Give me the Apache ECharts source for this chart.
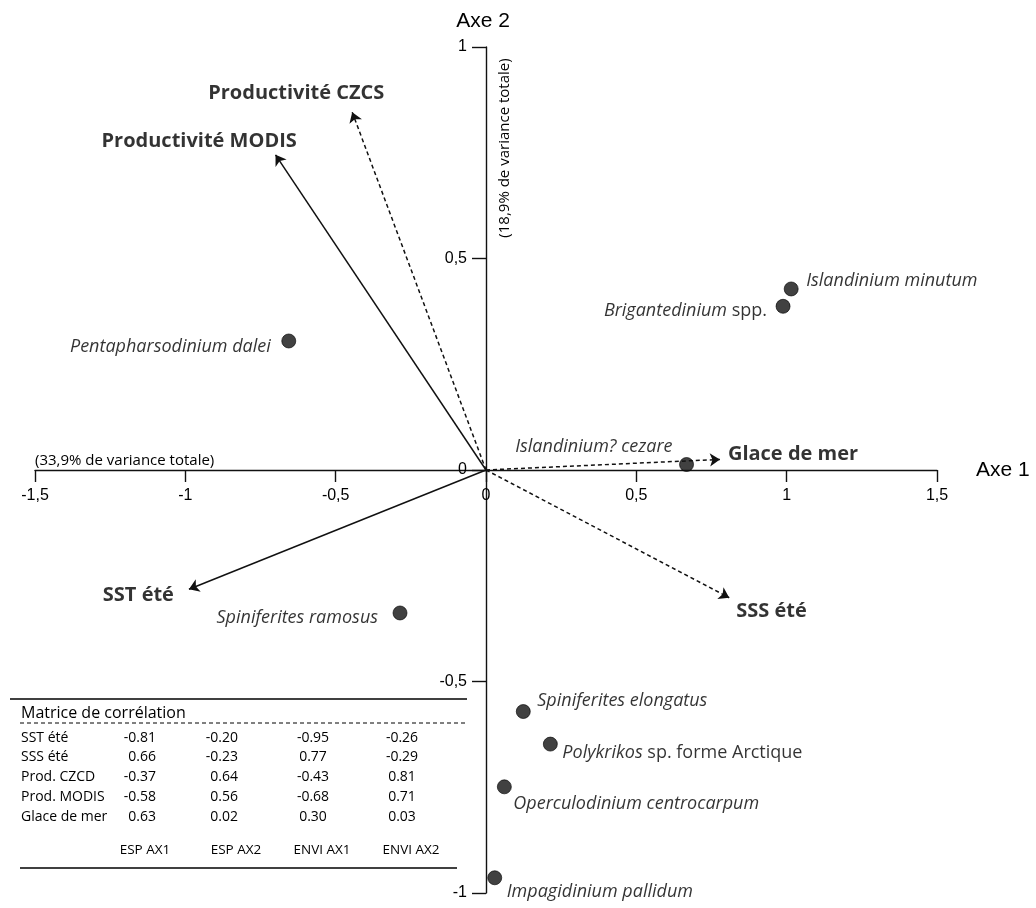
<!DOCTYPE html>
<html><head><meta charset="utf-8">
<script src="https://cdn.jsdelivr.net/npm/echarts@6/dist/echarts.min.js"></script>
<style>html,body{margin:0;padding:0;background:#fff}#c{width:1036px;height:908px}</style>
</head><body><div id="c"></div>
<script>
// ---------- data ----------
const xTicks = [-1.5, -1, -0.5, 0, 0.5, 1, 1.5];
const xTickLabels = ['-1,5', '-1', '-0,5', '0', '0,5', '1', '1,5'];
const yTicks = [-1, -0.5, 0, 0.5, 1];
const yTickLabels = ['-1', '-0,5', '0', '0,5', '1'];

const speciesItalic = ['Islandinium minutum', 'Brigantedinium', 'Islandinium? cezare', 'Pentapharsodinium dalei',
  'Spiniferites ramosus', 'Spiniferites elongatus', 'Polykrikos', 'Operculodinium centrocarpum', 'Impagidinium pallidum'];
const speciesRoman = ['', 'spp.', '', '', '', '', 'sp. forme Arctique', '', ''];
const speciesX = [1.015, 0.988, 0.667, -0.656, -0.286, 0.124, 0.214, 0.061, 0.029];
const speciesY = [0.428, 0.387, 0.013, 0.305, -0.338, -0.571, -0.648, -0.749, -0.964];

const vectorNames = ['SST été', 'SSS été', 'Productivité CZCS', 'Productivité MODIS', 'Glace de mer'];
const vectorX = [-0.988, 0.809, -0.445, -0.700, 0.778];
const vectorY = [-0.282, -0.302, 0.846, 0.745, 0.025];

const tableTitle = 'Matrice de corrélation';
const tableRows = ['SST été', 'SSS été', 'Prod. CZCD', 'Prod. MODIS', 'Glace de mer'];
const tableCols = ['ESP AX1', 'ESP AX2', 'ENVI AX1', 'ENVI AX2'];
const espAx1 = [-0.81, 0.66, -0.37, -0.58, 0.63];
const espAx2 = [-0.20, -0.23, 0.64, 0.56, 0.02];
const enviAx1 = [-0.95, 0.77, -0.43, -0.68, 0.30];
const enviAx2 = [-0.26, -0.29, 0.81, 0.71, 0.03];

const xAxisTitle = 'Axe 1', yAxisTitle = 'Axe 2';
const xVarLabel = '(33,9% de variance totale)';
const yVarLabel = '(18,9% de variance totale)';

// ---------- layout / style ----------
const INK = '#000';
const SANS = '"Open Sans", "Noto Sans", sans-serif';
const AXF = '"Liberation Sans", Arial, sans-serif';
const GRID = { left: 35, right: 99, top: 47, bottom: 15 };
const vecStyle = [
  { dashed: false, align: 'right', off: [-15, 6] },
  { dashed: true,  align: 'left',  off: [7, 14] },
  { dashed: true,  align: 'left', off: [-144, -19] },
  { dashed: false, align: 'left', off: [-174, -14] },
  { dashed: true,  align: 'left',  off: [8, -5] }
];
const spLabel = [
  { align: 'left', off: [15, -8] },
  { align: 'right', off: [-16, 5] },
  { align: 'right', off: [-14, -18] },
  { align: 'right', off: [-18, 6] },
  { align: 'right', off: [-22, 5] },
  { align: 'left', off: [14, -11] },
  { align: 'left', off: [12, 9] },
  { align: 'left', off: [9, 17] },
  { align: 'left', off: [12, 14] }
];
const tbl = { x0: 10, x1: 467, lx: 21, topLine: 699, titleY: 713, dashY: 723,
  rowY: [738, 757, 777, 797, 817], headY: 850, botY: 868,
  colX: [156, 238, 313, 402], colAlign: ['right', 'right', 'center', 'center'],
  headX: [145, 236, 322, 411] };

function lookup(ticks, labels, v) {
  for (let i = 0; i < ticks.length; i++) if (Math.abs(ticks[i] - v) < 1e-9) return labels[i];
  return '';
}

const chart = echarts.init(document.getElementById('c'));

const vecLines = vectorX.map((x, i) => ({
  coords: [[0, 0], [x, vectorY[i]]],
  lineStyle: { type: vecStyle[i].dashed ? [4, 3] : 'solid' }
}));
const vecTips = vectorX.map((x, i) => ({
  value: [x, vectorY[i]],
  label: { align: vecStyle[i].align, offset: vecStyle[i].off }
}));
const spData = speciesX.map((x, i) => ({
  value: [x, speciesY[i]],
  label: { align: spLabel[i].align, offset: spLabel[i].off }
}));

const graphics = [];
graphics.push({ type: 'text', x: 35, y: 461, style: { text: xVarLabel, font: '15px ' + SANS, fill: INK, align: 'left', verticalAlign: 'middle' } });
graphics.push({ type: 'text', x: 505, y: 148, rotation: Math.PI / 2, style: { text: yVarLabel, font: '15px ' + SANS, fill: INK, align: 'center', verticalAlign: 'middle' } });
// table
graphics.push({ type: 'line', shape: { x1: tbl.x0, y1: tbl.topLine, x2: tbl.x1, y2: tbl.topLine }, style: { stroke: INK, lineWidth: 1.4 } });
graphics.push({ type: 'text', x: tbl.lx, y: tbl.titleY, style: { text: tableTitle, font: '16px ' + SANS, fill: INK, align: 'left', verticalAlign: 'middle' } });
graphics.push({ type: 'line', shape: { x1: tbl.lx - 1, y1: tbl.dashY, x2: tbl.x1, y2: tbl.dashY }, style: { stroke: INK, lineWidth: 1, lineDash: [4, 3] } });
const cols = [espAx1, espAx2, enviAx1, enviAx2];
tableRows.forEach((r, i) => {
  graphics.push({ type: 'text', x: tbl.lx, y: tbl.rowY[i], style: { text: r, font: '14px ' + SANS, fill: INK, align: 'left', verticalAlign: 'middle' } });
  cols.forEach((c, j) => {
    graphics.push({ type: 'text', x: tbl.colX[j], y: tbl.rowY[i], style: { text: c[i].toFixed(2), font: '14px ' + SANS, fill: INK, align: tbl.colAlign[j], verticalAlign: 'middle' } });
  });
});
tableCols.forEach((h, j) => {
  graphics.push({ type: 'text', x: tbl.headX[j], y: tbl.headY, style: { text: h, font: '13.5px ' + SANS, fill: INK, align: 'center', verticalAlign: 'middle' } });
});
graphics.push({ type: 'line', shape: { x1: tbl.lx - 1, y1: tbl.botY, x2: 457, y2: tbl.botY }, style: { stroke: INK, lineWidth: 1.4 } });

const option = {
  animation: false,
  backgroundColor: '#fff',
  grid: Object.assign({ containLabel: false, outerBoundsMode: 'none' }, GRID),
  xAxis: {
    type: 'value', min: -1.5, max: 1.5, interval: 0.5, position: 'bottom', offset: 0,
    splitLine: { show: false },
    axisLine: { onZero: false, lineStyle: { color: '#111', width: 1.4 } },
    axisTick: { length: 12, lineStyle: { color: '#111', width: 1.4 } },
    axisLabel: { margin: 18, fontSize: 16, fontFamily: AXF, color: INK, formatter: v => lookup(xTicks, xTickLabels, v) },
    name: xAxisTitle, nameLocation: 'end', nameGap: 39,
    nameTextStyle: { fontSize: 21, fontFamily: AXF, color: INK }
  },
  yAxis: {
    type: 'value', min: -1, max: 1, interval: 0.5, position: 'left', offset: 0,
    splitLine: { show: false },
    axisLine: { onZero: false, lineStyle: { color: '#111', width: 1.4 } },
    axisTick: { length: 14, lineStyle: { color: '#111', width: 1.4 } },
    axisLabel: { margin: 19, fontSize: 16, fontFamily: AXF, color: INK, formatter: v => lookup(yTicks, yTickLabels, v) },
    name: yAxisTitle, nameLocation: 'end', nameGap: 15,
    nameTextStyle: { fontSize: 21, fontFamily: AXF, color: INK, padding: [0, 6, 0, 0] }
  },
  series: [
    {
      type: 'lines', coordinateSystem: 'cartesian2d', silent: true,
      symbol: ['none', 'arrow'], symbolSize: [0, 10],
      lineStyle: { color: '#111', width: 1.5, opacity: 1 },
      data: vecLines, z: 3
    },
    {
      type: 'scatter', symbolSize: 0, silent: true, data: vecTips, z: 4,
      label: { show: true, position: 'inside', verticalAlign: 'middle', color: INK,
        fontFamily: SANS, fontWeight: 'bold', fontSize: 20,
        formatter: p => vectorNames[p.dataIndex] }
    },
    {
      type: 'scatter', symbol: 'circle', symbolSize: 14, data: spData, z: 5,
      itemStyle: { color: '#121212', borderColor: '#000', borderWidth: 0.8 },
      label: {
        show: true, position: 'inside', verticalAlign: 'middle', color: INK,
        formatter: p => {
          const i = p.dataIndex;
          return '{i|' + speciesItalic[i] + '}' + (speciesRoman[i] ? '{r| ' + speciesRoman[i] + '}' : '');
        },
        rich: {
          i: { fontFamily: SANS, fontStyle: 'italic', fontSize: 18, color: INK },
          r: { fontFamily: SANS, fontSize: 18, color: INK }
        }
      }
    }
  ],
  graphic: graphics
};
chart.setOption(option);

// move both axes (line, ticks, labels) onto the origin
const o = chart.convertToPixel({ gridIndex: 0 }, [0, 0]);
const gridBottom = 908 - GRID.bottom, gridLeft = GRID.left;
chart.setOption({
  xAxis: { offset: -(gridBottom - o[1]) },
  yAxis: { offset: -(o[0] - gridLeft) }
});
</script>
</body></html>
